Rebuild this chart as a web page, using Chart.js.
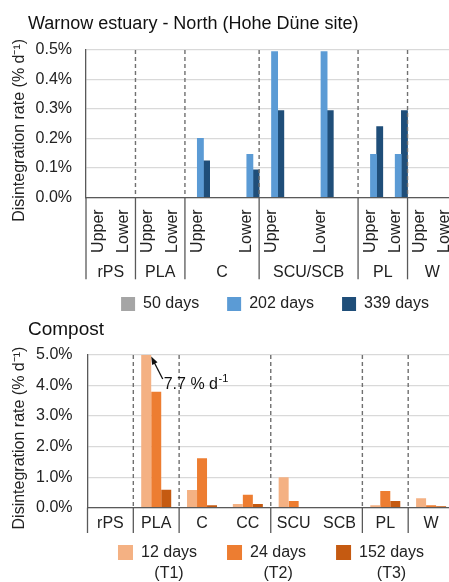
<!DOCTYPE html>
<html>
<head>
<meta charset="utf-8">
<script src="https://cdn.jsdelivr.net/npm/chart.js@4.4.1/dist/chart.umd.min.js"></script>
<style>
  html, body { margin: 0; padding: 0; background: #fff; overflow: hidden; width: 449px; height: 582px; }
  canvas { position: absolute; left: 0; }
  #estuary { top: 0; }
  #compost { top: 322px; }
  .panel-title { position: absolute; left: 28px; font-family: "Liberation Sans", Arial, sans-serif; color: #111; white-space: nowrap; z-index: 2; }
  #estuary-title { top: 14px; font-size: 18px; line-height: 18px; }
  #compost-title { top: 319px; font-size: 19px; line-height: 19px; }
</style>
</head>
<body>
<canvas id="estuary" width="460" height="322"></canvas>
<canvas id="compost" width="460" height="270"></canvas>
<div class="panel-title" id="estuary-title">Warnow estuary - North (Hohe Düne site)</div>
<div class="panel-title" id="compost-title">Compost</div>
<script>
// ---- Warnow estuary, North (Hohe Düne site): rate per sample position ----
const estuaryPositions = ['Upper', 'Lower', 'Upper', 'Lower', 'Upper', '', 'Lower', 'Upper', '', 'Lower', '', 'Upper', 'Lower', 'Upper', 'Lower'];
const estuaryMaterials = ['rPS', 'PLA', 'C', 'SCU/SCB', 'PL', 'W'];
const estuaryMaterialSlots = [2, 2, 3, 4, 2, 2];
const estuarySeries = ['50 days', '202 days', '339 days'];
const estuary50d  = [null, null, null, null, null, null, null, null, null, null, null, null, null, null, null];
const estuary202d = [null, null, null, null, 0.2, null, 0.146, 0.495, null, 0.495, null, 0.146, 0.146, null, null];
const estuary339d = [null, null, null, null, 0.124, null, 0.093, 0.294, null, 0.294, null, 0.24, 0.294, null, null];
const estuaryTicks = [0, 0.1, 0.2, 0.3, 0.4, 0.5];

// ---- Compost: rate per material ----
const compostMaterials = ['rPS', 'PLA', 'C', 'CC', 'SCU', 'SCB', 'PL', 'W'];
const compostSeries = ['12 days', '24 days', '152 days'];
const compostSampling = ['(T1)', '(T2)', '(T3)'];
const compostT1 = [null, 7.7, 0.58, 0.12, 1.0, null, 0.08, 0.31];
const compostT2 = [null, 3.8, 1.62, 0.42, 0.22, null, 0.55, 0.08];
const compostT3 = [null, 0.59, 0.08, 0.12, null, null, 0.22, 0.05];
const compostDividers = [0.5, 1.5, 3.5, 5.5, 6.5];
const compostTicks = [0, 1, 2, 3, 4, 5];

const FONT = '"Liberation Sans", Arial, sans-serif';
const TEXT = '#222';
const AXIS = '#595959';
Chart.defaults.font.family = FONT;
Chart.defaults.font.size = 16;
Chart.defaults.color = TEXT;

// Dashed material dividers over the plot, solid ticks through the label rows,
// and category captions below the axis.
const materialAxis = {
  id: 'materialAxis',
  afterDatasetsDraw(chart, args, o) {
    const { ctx, chartArea: a, scales: { x } } = chart;
    ctx.save();
    ctx.strokeStyle = '#707070';
    ctx.lineWidth = 1.4;
    ctx.setLineDash([4, 3]);
    o.dividers.forEach(v => {
      const px = x.getPixelForValue(v);
      ctx.beginPath(); ctx.moveTo(px, a.top); ctx.lineTo(px, a.bottom); ctx.stroke();
    });
    ctx.setLineDash([]);
    ctx.strokeStyle = AXIS;
    ctx.lineWidth = 1.3;
    [a.left, ...o.dividers.map(v => x.getPixelForValue(v))].forEach(px => {
      ctx.beginPath(); ctx.moveTo(px, a.bottom); ctx.lineTo(px, a.bottom + o.depth); ctx.stroke();
    });
    if (o.groups) {
      ctx.font = '16px ' + FONT;
      ctx.fillStyle = TEXT;
      ctx.textAlign = 'center';
      ctx.textBaseline = 'middle';
      o.groups.forEach(g => ctx.fillText(g.text, x.getPixelForValue(g.at), a.bottom + o.labelOffset));
    }
    ctx.restore();
  }
};

// Second caption line centred under each legend entry.
const legendNotes = {
  id: 'legendNotes',
  afterDraw(chart, args, o) {
    const lg = chart.legend;
    if (!lg || !lg.legendHitBoxes) return;
    const { ctx } = chart;
    const boxW = lg.options.labels.boxWidth;
    const half = 8;
    ctx.save();
    ctx.font = '16px ' + FONT;
    ctx.fillStyle = TEXT;
    ctx.textAlign = 'center';
    ctx.textBaseline = 'middle';
    lg.legendHitBoxes.forEach((hb, i) => {
      const textW = hb.width - boxW - half;
      ctx.fillText(o.lines[i], hb.left + hb.width - textW / 2, hb.top + hb.height / 2 + o.dy);
    });
    ctx.restore();
  }
};

// Arrow and value note for a bar that runs past the axis maximum.
const offScaleNote = {
  id: 'offScaleNote',
  afterDatasetsDraw(chart, args, o) {
    const { ctx, chartArea: a } = chart;
    const bar = chart.getDatasetMeta(o.dataset).data[o.index];
    const value = chart.data.datasets[o.dataset].data[o.index];
    const hx = bar.x + bar.width / 2;
    const hy = Math.max(bar.y, a.top) + 1.5;
    const tx = hx + 11.5, ty = hy + 22.5;
    ctx.save();
    ctx.strokeStyle = '#111';
    ctx.fillStyle = '#111';
    ctx.lineWidth = 1.3;
    ctx.beginPath(); ctx.moveTo(tx, ty); ctx.lineTo(hx + 2, hy + 4); ctx.stroke();
    const ang = Math.atan2(hy - ty, hx - tx);
    ctx.beginPath();
    ctx.moveTo(hx, hy);
    ctx.lineTo(hx - 8 * Math.cos(ang) + 3 * Math.sin(ang), hy - 8 * Math.sin(ang) - 3 * Math.cos(ang));
    ctx.lineTo(hx - 8 * Math.cos(ang) - 3 * Math.sin(ang), hy - 8 * Math.sin(ang) + 3 * Math.cos(ang));
    ctx.closePath(); ctx.fill();
    ctx.textAlign = 'left';
    ctx.textBaseline = 'alphabetic';
    ctx.font = '16px ' + FONT;
    const main = value.toFixed(1) + ' % d';
    const base = hy + 32;
    ctx.fillText(main, hx + 12.5, base);
    const w = ctx.measureText(main).width;
    ctx.font = '11px ' + FONT;
    ctx.fillText('-1', hx + 12.5 + w + 0.5, base - 7);
    ctx.restore();
  }
};

// group captions for the estuary axis, placed at the middle of each material's slots
const estuaryGroups = [];
const estuaryDividers = [];
let slot = 0;
estuaryMaterials.forEach((m, i) => {
  const n = estuaryMaterialSlots[i];
  estuaryGroups.push({ text: m, at: slot + (n - 1) / 2 });
  slot += n;
  if (i < estuaryMaterials.length - 1) estuaryDividers.push(slot - 0.5);
});
const compostGroups = compostMaterials.map((m, i) => ({ text: m, at: i }));

const yAxisTitle = 'Disintegration rate (% d\u207B\u00B9)   ';

new Chart(document.getElementById('estuary'), {
  type: 'bar',
  data: {
    labels: estuaryPositions,
    datasets: [
      { label: estuarySeries[0], data: estuary50d, backgroundColor: '#a5a5a5' },
      { label: '', data: estuary50d.map(() => null), backgroundColor: 'rgba(0,0,0,0)' },
      { label: estuarySeries[1], data: estuary202d, backgroundColor: '#5b9bd5' },
      { label: estuarySeries[2], data: estuary339d, backgroundColor: '#1f4e79' }
    ]
  },
  options: {
    responsive: false,
    animation: false,
    layout: { padding: { left: 10, top: 50, right: 3, bottom: 0 } },
    datasets: { bar: { categoryPercentage: 1, barPercentage: 1, borderWidth: 0, clip: 0 } },
    scales: {
      x: {
        ticks: { autoSkip: false, minRotation: 90, maxRotation: 90, padding: 12, color: TEXT, font: { size: 16 } },
        grid: { display: false, drawTicks: false },
        border: { display: true, color: AXIS, width: 1.3 },
        afterFit: s => { s.height = 70.7; s.paddingLeft = 0; s.paddingRight = 0; }
      },
      y: {
        min: 0, max: 0.5,
        afterBuildTicks: s => { s.ticks = estuaryTicks.map(v => ({ value: v })); },
        ticks: { autoSkip: false, callback: v => v.toFixed(1) + '%', padding: 14, color: TEXT, font: { size: 16 } },
        grid: { color: '#d9d9d9', lineWidth: 1.2, drawTicks: false },
        border: { display: true, color: AXIS, width: 1.3 },
        title: { display: true, text: yAxisTitle, color: TEXT, font: { size: 16 }, padding: { top: 0, bottom: 0 } },
        afterFit: s => { s.width = 76; }
      }
    },
    plugins: {
      legend: {
        position: 'bottom',
        align: 'end',
        labels: { boxWidth: 14, boxHeight: 14, padding: 28, color: TEXT, font: { size: 16 }, filter: item => item.text !== '' }
      },
      tooltip: { enabled: false },
      materialAxis: { dividers: estuaryDividers, groups: estuaryGroups, depth: 82, labelOffset: 75.5 }
    }
  },
  plugins: [materialAxis]
});

new Chart(document.getElementById('compost'), {
  type: 'bar',
  data: {
    labels: compostMaterials,
    datasets: [
      { label: compostSeries[0], data: compostT1, backgroundColor: '#f4b183' },
      { label: compostSeries[1], data: compostT2, backgroundColor: '#ed7d31' },
      { label: compostSeries[2], data: compostT3, backgroundColor: '#c55a11' }
    ]
  },
  options: {
    responsive: false,
    animation: false,
    layout: { padding: { left: 10, top: 33, right: 6, bottom: 21.5 } },
    datasets: { bar: { categoryPercentage: 0.655, barPercentage: 1, borderWidth: 0, clip: 0 } },
    scales: {
      x: {
        ticks: { display: false },
        grid: { display: false, drawTicks: false },
        border: { display: true, color: AXIS, width: 1.3 },
        afterFit: s => { s.height = 6.8; }
      },
      y: {
        min: 0, max: 5,
        afterBuildTicks: s => { s.ticks = compostTicks.map(v => ({ value: v })); },
        ticks: { autoSkip: false, callback: v => v.toFixed(1) + '%', padding: 15, color: TEXT, font: { size: 16 } },
        grid: { color: '#d9d9d9', lineWidth: 1.2, drawTicks: false },
        border: { display: true, color: AXIS, width: 1.3 },
        title: { display: true, text: yAxisTitle, color: TEXT, font: { size: 16 }, padding: { top: 0, bottom: 0 } },
        afterFit: s => { s.width = 77.5; }
      }
    },
    plugins: {
      legend: {
        position: 'bottom',
        align: 'end',
        labels: { boxWidth: 15, boxHeight: 15, padding: 30, color: TEXT, font: { size: 16 } }
      },
      tooltip: { enabled: false },
      materialAxis: { dividers: compostDividers, groups: compostGroups, depth: 25.3, labelOffset: 15.8 },
      legendNotes: { lines: compostSampling, dy: 21.5 },
      offScaleNote: { dataset: 0, index: 1 }
    }
  },
  plugins: [materialAxis, legendNotes, offScaleNote]
});
</script>
</body>
</html>
